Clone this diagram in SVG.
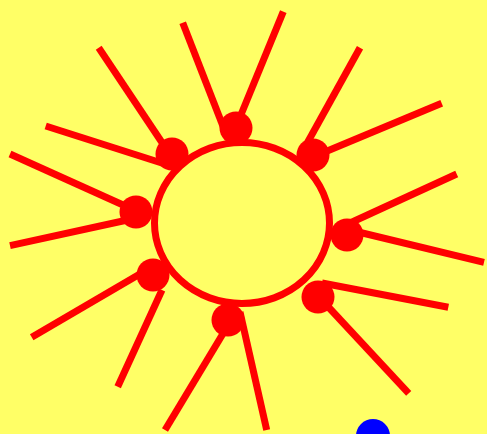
<svg xmlns="http://www.w3.org/2000/svg" width="487" height="434" viewBox="0 0 487 434">
<style>
.ln{stroke:#ff0000;stroke-width:7;fill:none;stroke-linecap:butt}
.dot{fill:#ff0000}
</style>
<rect width="487" height="434" fill="#ffff66"/>
<g id="connectors" class="ln">
<line x1="182.7" y1="22.7" x2="226" y2="134"/>
<line x1="283.3" y1="11.7" x2="238" y2="122"/>
<line x1="98.7" y1="47.7" x2="179" y2="168"/>
<line x1="45.7" y1="126" x2="168" y2="165"/>
<line x1="360" y1="47.7" x2="305" y2="147"/>
<line x1="441.7" y1="103.3" x2="320" y2="154"/>
<line x1="10" y1="154" x2="132" y2="209"/>
<line x1="10" y1="245.7" x2="132" y2="219"/>
<line x1="456.7" y1="174" x2="350" y2="223"/>
<line x1="484" y1="262.3" x2="350" y2="230"/>
<line x1="31.7" y1="337.3" x2="145" y2="271"/>
<line x1="117.7" y1="386.7" x2="162" y2="290"/>
<line x1="448.3" y1="307.3" x2="322" y2="283"/>
<line x1="408.7" y1="393.3" x2="320" y2="298"/>
<line x1="165" y1="430" x2="230" y2="322"/>
<line x1="266.7" y1="430" x2="240" y2="312"/>
</g>
<g id="ring"><ellipse cx="242" cy="223" rx="87.5" ry="80.5" class="ln"/></g>
<g id="n1"><circle class="dot" cx="236" cy="128" r="16.5"/></g>
<g id="n2"><circle class="dot" cx="172" cy="154" r="16.5"/></g>
<g id="n3"><circle class="dot" cx="313" cy="155" r="16.5"/></g>
<g id="n4"><circle class="dot" cx="136" cy="212" r="16.5"/></g>
<g id="n5"><circle class="dot" cx="347" cy="235" r="16.5"/></g>
<g id="n6"><circle class="dot" cx="153" cy="275" r="16.5"/></g>
<g id="n7"><circle class="dot" cx="318" cy="297" r="16.5"/></g>
<g id="n8"><circle class="dot" cx="228" cy="320" r="16.5"/></g>
<g id="blue"><circle cx="373" cy="436" r="17" fill="#0000ff"/></g>
</svg>
